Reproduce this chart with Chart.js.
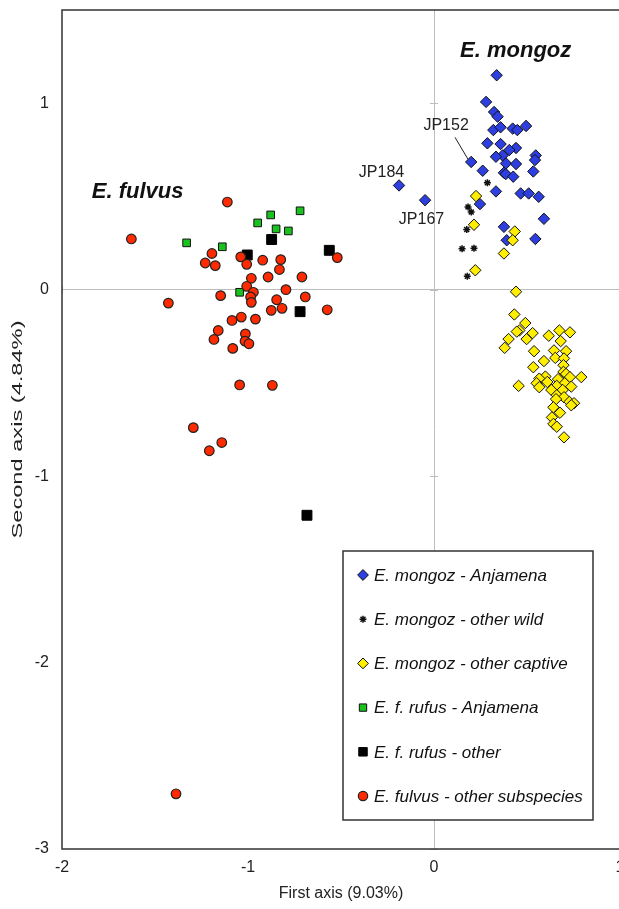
<!DOCTYPE html>
<html><head><meta charset="utf-8">
<script src="https://cdn.jsdelivr.net/npm/chart.js@4.4.0/dist/chart.umd.min.js"></script>
<style>
html,body{margin:0;padding:0;overflow:hidden;background:#fff;width:619px;height:909px;}
#wrap{position:absolute;left:0;top:0;width:660px;height:909px;}
</style></head><body>
<div id="wrap"><canvas id="c" width="660" height="909"></canvas></div>
<script>
// ---- data ----
const seriesLabels = [
  'E. mongoz - Anjamena',
  'E. mongoz - other wild',
  'E. mongoz - other captive',
  'E. f. rufus - Anjamena',
  'E. f. rufus - other',
  'E. fulvus - other subspecies'
];
const mongozAnjamena = [
  [0.337,1.15],[0.28,1.007],[0.323,0.953],[0.342,0.928],[0.319,0.856],[0.358,0.871],
  [0.423,0.864],[0.448,0.856],[0.495,0.878],[0.287,0.785],[0.358,0.781],[0.441,0.760],
  [0.405,0.749],[0.369,0.720],[0.333,0.713],[0.547,0.720],[0.543,0.695],[0.387,0.677],
  [0.441,0.674],[0.2,0.685],[0.262,0.638],[0.376,0.627],[0.386,0.62],[0.534,0.634],
  [0.426,0.606],[0.333,0.527],[0.466,0.516],[0.509,0.516],[0.563,0.498],[0.247,0.459],
  [0.591,0.380],[0.376,0.337],[0.391,0.265],[0.545,0.272],[-0.188,0.559],[-0.048,0.48]
];
const mongozOtherWild = [
  [0.287,0.573],[0.183,0.444],[0.2,0.416],[0.176,0.323],[0.151,0.219],[0.215,0.222],[0.179,0.072]
];
const mongozCaptive = [
  [0.226,0.502],[0.215,0.348],[0.434,0.312],[0.423,0.265],[0.376,0.194],[0.222,0.104],
  [0.441,-0.011],[0.432,-0.133],[0.491,-0.179],[0.459,-0.219],[0.445,-0.225],[0.530,-0.233],
  [0.498,-0.265],[0.401,-0.265],[0.380,-0.312],[0.617,-0.247],[0.674,-0.219],[0.731,-0.229],
  [0.681,-0.276],[0.538,-0.330],[0.645,-0.326],[0.710,-0.330],[0.652,-0.366],[0.699,-0.369],
  [0.591,-0.383],[0.696,-0.405],[0.534,-0.416],[0.696,-0.441],[0.710,-0.452],[0.792,-0.469],
  [0.731,-0.469],[0.599,-0.466],[0.566,-0.477],[0.667,-0.480],[0.609,-0.495],[0.552,-0.502],
  [0.703,-0.502],[0.660,-0.516],[0.566,-0.523],[0.738,-0.520],[0.455,-0.516],[0.631,-0.538],
  [0.692,-0.538],[0.660,-0.566],[0.699,-0.577],[0.656,-0.587],[0.728,-0.602],[0.753,-0.609],
  [0.738,-0.620],[0.642,-0.631],[0.677,-0.660],[0.634,-0.685],[0.642,-0.720],[0.660,-0.735],
  [0.699,-0.792]
];
const rufusAnjamena = [
  [-1.330,0.251],[-1.138,0.230],[-1.045,-0.014],[-0.878,0.401],[-0.720,0.423],
  [-0.948,0.358],[-0.849,0.326],[-0.783,0.315]
];
const rufusOther = [
  [-0.873,0.269],[-1.004,0.186],[-0.563,0.211],[-0.720,-0.118],[-0.683,-1.21]
];
const fulvusOther = [
  [-1.111,0.470],[-1.627,0.272],[-1.194,0.194],[-1.230,0.143],[-1.176,0.129],[-1.039,0.176],
  [-1.007,0.136],[-0.921,0.158],[-0.824,0.161],[-0.831,0.108],[-0.520,0.172],[-0.982,0.061],
  [-0.892,0.068],[-0.710,0.068],[-1.007,0.018],[-0.971,-0.014],[-0.796,0.0],[-1.147,-0.032],
  [-0.986,-0.039],[-0.982,-0.068],[-0.846,-0.054],[-0.692,-0.039],[-0.875,-0.111],[-0.817,-0.100],
  [-0.574,-0.108],[-1.428,-0.072],[-1.086,-0.165],[-1.036,-0.147],[-0.960,-0.158],[-1.160,-0.219],
  [-1.183,-0.267],[-1.014,-0.237],[-1.016,-0.276],[-0.995,-0.290],[-1.082,-0.315],[-1.045,-0.511],
  [-0.869,-0.513],[-1.294,-0.740],[-1.141,-0.820],[-1.208,-0.864],[-1.387,-2.704]
];
const xTicks = [-2,-1,0,1];
const yTicks = [-3,-2,-1,0,1];
const xTitle = 'First axis (9.03%)';
const yTitle = 'Second axis (4.84%)';
const groupLabels = [
  {text:'E. mongoz', x:0.14, y:1.247},
  {text:'E. fulvus', x:-1.84, y:0.489}
];
const sampleLabels = [
  {text:'JP184', x:-0.282, y:0.629},
  {text:'JP167', x:-0.067, y:0.374},
  {text:'JP152', x:0.065, y:0.882, line:[0.113,0.817,0.183,0.699]}
];

const FONT = '"Liberation Sans", Arial, sans-serif';
const toPts = a => a.map(p => ({x:p[0], y:p[1]}));
const styles = [
  {pointStyle:'rectRot', radius:5.7, bg:'#2d3fe0', border:'#111', bw:1, lr:5.4},
  {pointStyle:'star', radius:3.5, bg:'#111', border:'#111', bw:1.5, lr:3.5},
  {pointStyle:'rectRot', radius:5.7, bg:'#ffee00', border:'#111', bw:1, lr:5.4},
  {pointStyle:'rect', radius:5.4, bg:'#19c21e', border:'#111', bw:1, lr:5.2},
  {pointStyle:'rect', radius:7, bg:'#000', border:'#000', bw:1, lr:6},
  {pointStyle:'circle', radius:4.8, bg:'#ff2a00', border:'#222', bw:1.2, lr:4.7}
];
const dataArrays = [mongozAnjamena, mongozOtherWild, mongozCaptive, rufusAnjamena, rufusOther, fulvusOther];
const datasets = dataArrays.map((arr,i) => ({
  label: seriesLabels[i],
  data: toPts(arr),
  pointStyle: styles[i].pointStyle,
  pointRadius: styles[i].radius,
  pointHoverRadius: styles[i].radius,
  backgroundColor: styles[i].bg,
  borderColor: styles[i].border,
  pointBorderWidth: styles[i].bw,
  borderWidth: styles[i].bw,
  showLine: false,
  order: 5 - i
}));

const decor = {
  id:'decor',
  beforeDatasetsDraw(chart){
    const {ctx, scales:{x, y}} = chart;
    const x0 = x.getPixelForValue(0), y0 = y.getPixelForValue(0);
    ctx.save();
    ctx.strokeStyle = '#bdbdbd'; ctx.lineWidth = 1;
    ctx.beginPath();
    yTicks.forEach(v => { const py = Math.round(y.getPixelForValue(v))+0.5; ctx.moveTo(x0-4, py); ctx.lineTo(x0+4, py); });
    xTicks.forEach(v => { const px = Math.round(x.getPixelForValue(v))+0.5; ctx.moveTo(px, y0-4); ctx.lineTo(px, y0+4); });
    ctx.stroke();
    ctx.restore();
  },
  afterDatasetsDraw(chart){
    const {ctx, chartArea:a, scales:{x, y}} = chart;
    ctx.save();
    // frame
    ctx.strokeStyle = '#333'; ctx.lineWidth = 1.5;
    ctx.strokeRect(a.left, a.top, a.right - a.left, a.bottom - a.top);
    // y axis title (elongated as in the source figure)
    ctx.save();
    ctx.fillStyle = '#222';
    ctx.font = '15px ' + FONT;
    ctx.textAlign = 'center'; ctx.textBaseline = 'middle';
    ctx.translate(18, (a.top + a.bottom) / 2);
    ctx.rotate(-Math.PI / 2);
    const natural = ctx.measureText(yTitle).width;
    ctx.scale(218 / natural, 1);
    ctx.fillText(yTitle, 0, 0);
    ctx.restore();
    // group labels
    ctx.fillStyle = '#111';
    ctx.font = 'italic bold 22px ' + FONT;
    ctx.textAlign = 'left'; ctx.textBaseline = 'alphabetic';
    groupLabels.forEach(g => ctx.fillText(g.text, x.getPixelForValue(g.x), y.getPixelForValue(g.y)));
    // sample labels
    ctx.font = '16px ' + FONT;
    ctx.textAlign = 'center'; ctx.textBaseline = 'middle';
    ctx.fillStyle = '#222';
    sampleLabels.forEach(s => {
      ctx.fillText(s.text, x.getPixelForValue(s.x), y.getPixelForValue(s.y));
      if (s.line) {
        ctx.strokeStyle = '#222'; ctx.lineWidth = 1;
        ctx.beginPath();
        ctx.moveTo(x.getPixelForValue(s.line[0]), y.getPixelForValue(s.line[1]));
        ctx.lineTo(x.getPixelForValue(s.line[2]), y.getPixelForValue(s.line[3]));
        ctx.stroke();
      }
    });
    // legend box
    const L = 343, T = 551, W = 250, H = 269;
    ctx.fillStyle = '#fff';
    ctx.fillRect(L, T, W, H);
    ctx.strokeStyle = '#333'; ctx.lineWidth = 1.5;
    ctx.strokeRect(L, T, W, H);
    ctx.font = 'italic 17px ' + FONT;
    ctx.textAlign = 'left'; ctx.textBaseline = 'middle';
    seriesLabels.forEach((lab, i) => {
      const yy = T + 24 + i * 44.2;
      const st = styles[i];
      ctx.fillStyle = st.bg; ctx.strokeStyle = st.border; ctx.lineWidth = st.bw;
      Chart.helpers.drawPoint(ctx, {pointStyle: st.pointStyle, radius: st.lr, rotation: 0, borderWidth: st.bw}, L + 20, yy);
      ctx.fillStyle = '#111';
      ctx.fillText(lab, L + 31, yy + 1);
    });
    ctx.restore();
  }
};

new Chart(document.getElementById('c'), {
  type: 'scatter',
  data: { datasets },
  options: {
    responsive: false,
    animation: false,
    devicePixelRatio: 1,
    layout: { padding: { left: 0, top: 10, right: 40, bottom: 0 } },
    plugins: { legend: { display: false }, tooltip: { enabled: false } },
    scales: {
      x: {
        type: 'linear', min: -2, max: 1,
        afterBuildTicks: s => { s.ticks = xTicks.map(v => ({value: v})); },
        afterFit: s => { s.height = 60; s.paddingLeft = 0; s.paddingRight = 0; },
        ticks: { font: { size: 16, family: FONT }, color: '#222', padding: 9, callback: v => String(v) },
        grid: { color: c => (c.tick && c.tick.value === 0) ? '#bdbdbd' : 'rgba(0,0,0,0)', drawTicks: false, lineWidth: 1 },
        border: { display: false },
        title: { display: true, text: xTitle, font: { size: 16, family: FONT }, color: '#222', padding: { top: 0, bottom: 6 } }
      },
      y: {
        type: 'linear', min: -3, max: 1.5,
        afterBuildTicks: s => { s.ticks = yTicks.map(v => ({value: v})); },
        afterFit: s => { s.width = 62; s.paddingTop = 0; s.paddingBottom = 0; },
        ticks: { font: { size: 16, family: FONT }, color: '#222', padding: 13, callback: v => String(v) },
        grid: { color: c => (c.tick && c.tick.value === 0) ? '#bdbdbd' : 'rgba(0,0,0,0)', drawTicks: false, lineWidth: 1 },
        border: { display: false },
        title: { display: false, text: yTitle }
      }
    }
  },
  plugins: [decor]
});
</script>
</body></html>
